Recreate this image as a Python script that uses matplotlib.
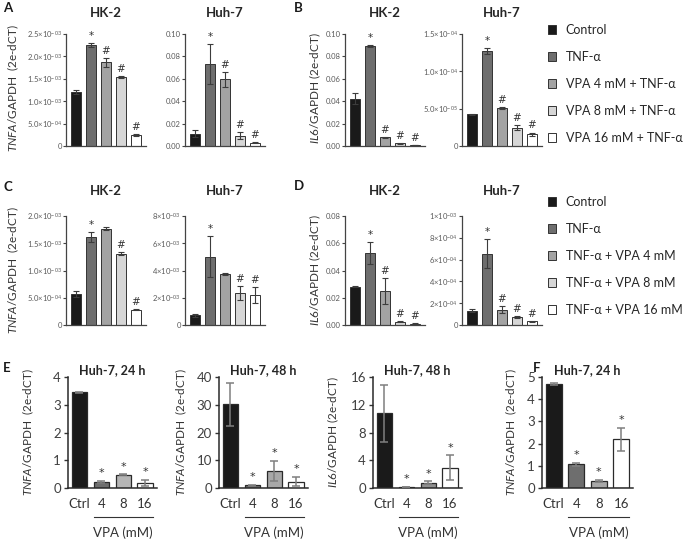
import matplotlib
matplotlib.use('Agg')
import matplotlib.pyplot as plt
from matplotlib.patches import Patch
import matplotlib.transforms as mtrans
import numpy as np

plt.rcParams['font.family'] = ['Lato', 'DejaVu Sans']
plt.rcParams['mathtext.fontset'] = 'custom'
plt.rcParams['mathtext.rm'] = 'Lato'
plt.rcParams['mathtext.it'] = 'Lato:italic'
plt.rcParams['mathtext.bf'] = 'Lato:bold'

# ---------------- data ----------------
groups_ab = ["Control", "TNF-α", "VPA 4 mM + TNF-α", "VPA 8 mM + TNF-α", "VPA 16 mM + TNF-α"]
groups_cd = ["Control", "TNF-α", "TNF-α + VPA 4 mM", "TNF-α + VPA 8 mM", "TNF-α + VPA 16 mM"]
bar_colors5 = ["#1a1a1a", "#6e6e6e", "#a3a3a3", "#d6d6d6", "#ffffff"]

# Panel A
a_hk2 = [1.21e-3, 2.25e-3, 1.87e-3, 1.54e-3, 0.24e-3]
a_hk2_err = [0.05e-3, 0.04e-3, 0.10e-3, 0.03e-3, 0.02e-3]
a_hk2_marks = ["", "*", "#", "#", "#"]
a_hk2_yticks = [0, 0.5e-3, 1.0e-3, 1.5e-3, 2.0e-3, 2.5e-3]
a_hk2_ylabels = ["0", "5.0×10$^{-04}$", "1.0×10$^{-03}$", "1.5×10$^{-03}$", "2.0×10$^{-03}$", "2.5×10$^{-03}$"]

a_huh7 = [0.011, 0.0734, 0.0594, 0.0091, 0.003]
a_huh7_err = [0.003, 0.018, 0.0066, 0.003, 0.0007]
a_huh7_marks = ["", "*", "#", "#", "#"]
a_huh7_yticks = [0, 0.02, 0.04, 0.06, 0.08, 0.10]
a_huh7_ylabels = ["0.00", "0.02", "0.04", "0.06", "0.08", "0.10"]

# Panel B
b_hk2 = [0.0424, 0.089, 0.0078, 0.0025, 0.001]
b_hk2_err = [0.005, 0.001, 0.0003, 0.0003, 0.0002]
b_hk2_marks = ["", "*", "#", "#", "#"]
b_hk2_yticks = [0, 0.02, 0.04, 0.06, 0.08, 0.10]
b_hk2_ylabels = ["0.00", "0.02", "0.04", "0.06", "0.08", "0.10"]

b_huh7 = [0.426e-4, 1.27e-4, 0.51e-4, 0.245e-4, 0.16e-4]
b_huh7_err = [0.005e-4, 0.04e-4, 0.01e-4, 0.03e-4, 0.02e-4]
b_huh7_marks = ["", "*", "#", "#", "#"]
b_huh7_yticks = [0, 0.5e-4, 1.0e-4, 1.5e-4]
b_huh7_ylabels = ["0", "5.0×10$^{-05}$", "1.0×10$^{-04}$", "1.5×10$^{-04}$"]

# Panel C
c_hk2 = [0.57e-3, 1.62e-3, 1.77e-3, 1.31e-3, 0.28e-3]
c_hk2_err = [0.06e-3, 0.09e-3, 0.03e-3, 0.03e-3, 0.01e-3]
c_hk2_marks = ["", "*", "", "#", "#"]
c_hk2_yticks = [0, 0.5e-3, 1.0e-3, 1.5e-3, 2.0e-3]
c_hk2_ylabels = ["0", "5.0×10$^{-04}$", "1.0×10$^{-03}$", "1.5×10$^{-03}$", "2.0×10$^{-03}$"]

c_huh7 = [0.7e-3, 5.0e-3, 3.75e-3, 2.35e-3, 2.2e-3]
c_huh7_err = [0.1e-3, 1.5e-3, 0.05e-3, 0.5e-3, 0.6e-3]
c_huh7_marks = ["", "*", "", "#", "#"]
c_huh7_yticks = [0, 2e-3, 4e-3, 6e-3, 8e-3]
c_huh7_ylabels = ["0", "2×10$^{-03}$", "4×10$^{-03}$", "6×10$^{-03}$", "8×10$^{-03}$"]

# Panel D
d_hk2 = [0.028, 0.053, 0.025, 0.0025, 0.001]
d_hk2_err = [0.0003, 0.008, 0.0095, 0.0005, 0.0002]
d_hk2_marks = ["", "*", "#", "#", "#"]
d_hk2_yticks = [0, 0.02, 0.04, 0.06, 0.08]
d_hk2_ylabels = ["0.00", "0.02", "0.04", "0.06", "0.08"]

d_huh7 = [1.3e-4, 6.55e-4, 1.4e-4, 0.7e-4, 0.35e-4]
d_huh7_err = [0.15e-4, 1.35e-4, 0.3e-4, 0.1e-4, 0.05e-4]
d_huh7_marks = ["", "*", "#", "#", "#"]
d_huh7_yticks = [0, 2e-4, 4e-4, 6e-4, 8e-4, 1e-3]
d_huh7_ylabels = ["0", "2×10$^{-04}$", "4×10$^{-04}$", "6×10$^{-04}$", "8×10$^{-04}$", "1×10$^{-03}$"]

# Panels E / F
vpa_cats = ["Ctrl", "4", "8", "16"]
e1_vals = [3.45, 0.22, 0.48, 0.18]
e1_err = [0.02, 0.03, 0.01, 0.10]
e1_marks = ["", "*", "*", "*"]
e1_yticks = [0, 1, 2, 3, 4]
e1_colors = ["#1a1a1a", "#6e6e6e", "#b5b5b5", "#ffffff"]

e2_vals = [30.2, 1.0, 6.2, 2.3]
e2_err = [7.7, 0.2, 3.7, 1.7]
e2_marks = ["", "*", "*", "*"]
e2_yticks = [0, 10, 20, 30, 40]
e2_colors = ["#1a1a1a", "#6e6e6e", "#a8a8a8", "#ffffff"]

e3_vals = [10.8, 0.15, 0.75, 2.9]
e3_err = [4.1, 0.05, 0.2, 1.8]
e3_marks = ["", "*", "*", "*"]
e3_yticks = [0, 4, 8, 12, 16]
e3_colors = ["#1a1a1a", "#6e6e6e", "#8f8f8f", "#ffffff"]

f_vals = [4.67, 1.07, 0.32, 2.2]
f_err = [0.05, 0.07, 0.04, 0.52]
f_marks = ["", "*", "*", "*"]
f_yticks = [0, 1, 2, 3, 4, 5]
f_colors = ["#1a1a1a", "#6e6e6e", "#a8a8a8", "#ffffff"]

# ---------------- layout ----------------
W, H = 685, 539
fig = plt.figure(figsize=(W / 100, H / 100), dpi=100)


def add_ax(x0, x1, ytop, ybot):
    return fig.add_axes([x0 / W, 1 - ybot / H, (x1 - x0) / W, (ybot - ytop) / H])


def ftext(x, y, s, **kw):
    fig.text(x / W, 1 - y / H, s, **kw)


EDGE = "#333333"
TICKC = "#5a5a5a"


def small_panel(ax, vals, errs, marks, yticks, ylabels):
    x = np.arange(len(vals))
    ax.bar(x, vals, width=0.68, color=bar_colors5, edgecolor=EDGE, linewidth=0.7, zorder=2)
    ax.errorbar(x, vals, yerr=errs, fmt='none', ecolor="#3c3c3c", elinewidth=0.8,
                capsize=2, capthick=0.8, zorder=3)
    for xi, v, e, m in zip(x, vals, errs, marks):
        if m:
            ax.annotate(m, (xi, v + e), xytext=(0, 1.5), textcoords='offset points',
                        ha='center', va='bottom', fontsize=7.5, color="#333333",
                        family='DejaVu Sans', annotation_clip=False)
    ax.set_xlim(-0.68, len(vals) - 1 + 0.68)
    ax.set_ylim(0, yticks[-1])
    ax.set_yticks(yticks)
    ax.set_yticklabels(ylabels, fontsize=5.5, color=TICKC)
    ax.set_xticks([])
    for s in ['top', 'right']:
        ax.spines[s].set_visible(False)
    for s in ['left', 'bottom']:
        ax.spines[s].set_color("#444444")
        ax.spines[s].set_linewidth(0.9)
    ax.tick_params(axis='y', length=2, width=0.8, color="#444444", pad=1)


def vpa_panel(ax, vals, errs, marks, yticks, colors):
    x = np.arange(len(vals))
    ax.bar(x, vals, width=0.7, color=colors, edgecolor="#2a2a2a", linewidth=0.9, zorder=2)
    ax.errorbar(x, vals, yerr=errs, fmt='none', ecolor="#7f7f7f", elinewidth=1.1,
                capsize=3, capthick=1.1, zorder=3)
    for xi, v, e, m in zip(x, vals, errs, marks):
        if m:
            ax.annotate(m, (xi, v + e), xytext=(0, 2), textcoords='offset points',
                        ha='center', va='bottom', fontsize=8, color="#333333",
                        family='DejaVu Sans', annotation_clip=False)
    ax.set_xlim(-0.52, len(vals) - 1 + 0.52)
    ax.set_ylim(0, yticks[-1])
    ax.set_yticks(yticks)
    ax.set_yticklabels([str(t) for t in yticks], fontsize=9.5, color="#404040")
    ax.set_xticks(x)
    ax.set_xticklabels(vpa_cats, fontsize=9.5, color="#333333")
    ax.tick_params(axis='x', length=0, pad=7)
    ax.tick_params(axis='y', length=3, width=1.0, color="#333333", pad=2)
    for s in ['top', 'right']:
        ax.spines[s].set_visible(False)
    for s in ['left', 'bottom']:
        ax.spines[s].set_color("#2a2a2a")
        ax.spines[s].set_linewidth(1.1)
    tr = mtrans.blended_transform_factory(ax.transData, ax.transAxes)
    ax.plot([1 - 0.35, 3 + 0.35], [-0.26, -0.26], transform=tr, color="#333333",
            linewidth=0.8, clip_on=False)
    ax.text(2, -0.40, "VPA (mM)", transform=tr, ha='center', va='center',
            fontsize=9.5, color="#333333")


# rows 1 and 2
xcols = [(66, 146), (185, 265), (345, 425), (462, 542)]
row1 = (34, 146)
row2 = (216, 325)

panels_r1 = [
    (a_hk2, a_hk2_err, a_hk2_marks, a_hk2_yticks, a_hk2_ylabels, "HK-2"),
    (a_huh7, a_huh7_err, a_huh7_marks, a_huh7_yticks, a_huh7_ylabels, "Huh-7"),
    (b_hk2, b_hk2_err, b_hk2_marks, b_hk2_yticks, b_hk2_ylabels, "HK-2"),
    (b_huh7, b_huh7_err, b_huh7_marks, b_huh7_yticks, b_huh7_ylabels, "Huh-7"),
]
panels_r2 = [
    (c_hk2, c_hk2_err, c_hk2_marks, c_hk2_yticks, c_hk2_ylabels, "HK-2"),
    (c_huh7, c_huh7_err, c_huh7_marks, c_huh7_yticks, c_huh7_ylabels, "Huh-7"),
    (d_hk2, d_hk2_err, d_hk2_marks, d_hk2_yticks, d_hk2_ylabels, "HK-2"),
    (d_huh7, d_huh7_err, d_huh7_marks, d_huh7_yticks, d_huh7_ylabels, "Huh-7"),
]

for (ytop, ybot), panels, ty in [(row1, panels_r1, 13), (row2, panels_r2, 191)]:
    for (x0, x1), (v, e, m, yt, yl, title) in zip(xcols, panels):
        ax = add_ax(x0, x1, ytop, ybot)
        small_panel(ax, v, e, m, yt, yl)
        ftext((x0 + x1) / 2, ty, title, ha='center', va='center', fontsize=9.5,
              fontweight='bold', color="#262626")

# y labels rows 1-2
tnfa_lab = "$\\mathit{TNFA}$/GAPDH  (2e-dCT)"
il6_lab = "$\\mathit{IL6}$/GAPDH (2e-dCT)"
for y in [88, 270]:
    ftext(13, y, tnfa_lab, rotation=90, ha='center', va='center', fontsize=8.5, color="#333333")
    ftext(315, y, il6_lab, rotation=90, ha='center', va='center', fontsize=8.5, color="#333333")

# panel letters
for lab, x, y in [("A", 3, 8), ("B", 294, 8), ("C", 3, 187), ("D", 294, 186), ("E", 3, 368), ("F", 533, 368)]:
    ftext(x, y, lab, ha='left', va='center', fontsize=9.5, fontweight='bold', color="#1a1a1a")

# legends
for y, labels in [(24, groups_ab), (196, groups_cd)]:
    handles = [Patch(facecolor=c, edgecolor="#333333", linewidth=0.7) for c in bar_colors5]
    fig.legend(handles, labels, loc='upper left', bbox_to_anchor=(548 / W, 1 - y / H),
               frameon=False, fontsize=9, handlelength=0.65, handleheight=0.65,
               handletextpad=0.75, labelspacing=1.2, borderpad=0, borderaxespad=0,
               labelcolor="#262626")

# row 3
row3 = (377, 488)
e_panels = [
    ((68, 156.5), e1_vals, e1_err, e1_marks, e1_yticks, e1_colors, "Huh-7, 24 h", 28, tnfa_lab),
    ((219, 307.5), e2_vals, e2_err, e2_marks, e2_yticks, e2_colors, "Huh-7, 48 h", 181, tnfa_lab),
    ((373, 461.5), e3_vals, e3_err, e3_marks, e3_yticks, e3_colors, "Huh-7, 48 h", 333, il6_lab),
    ((542, 633), f_vals, f_err, f_marks, f_yticks, f_colors, "Huh-7, 24 h", 511, tnfa_lab),
]
for (x0, x1), v, e, m, yt, cols, title, ylx, ylab in e_panels:
    ax = add_ax(x0, x1, row3[0], row3[1])
    vpa_panel(ax, v, e, m, yt, cols)
    ftext((x0 + x1) / 2, 370, title, ha='center', va='center', fontsize=9,
          fontweight='bold', color="#262626")
    ftext(ylx, (row3[0] + row3[1]) / 2, ylab, rotation=90, ha='center', va='center',
          fontsize=8.5, color="#333333")

fig.savefig("out.png", dpi=100)
